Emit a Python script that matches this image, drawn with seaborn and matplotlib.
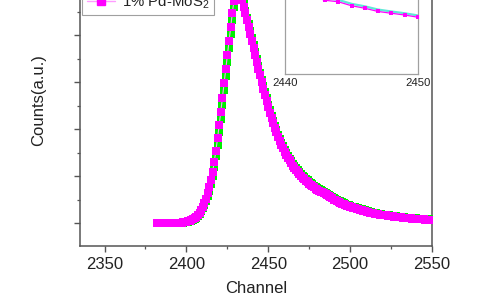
import matplotlib
matplotlib.use("Agg")
import matplotlib.pyplot as plt
import pandas as pd
import seaborn as sns
from matplotlib.lines import Line2D
from matplotlib.ticker import MultipleLocator, FixedLocator

# ---------------- data ----------------
channels = list(range(2382, 2551))

pure_counts = [
    0.00, 0.00, 0.00, 0.00, 0.00, 0.00, 0.00, 0.00, 0.00, 0.00,
    0.00, 0.00, 0.00, 0.00, 0.01, 0.01, 0.01, 0.02, 0.02, 0.03,
    0.04, 0.05, 0.07, 0.09, 0.11, 0.15, 0.19, 0.25, 0.31, 0.39,
    0.47, 0.57, 0.69, 0.83, 1.00, 1.19, 1.42, 1.67, 1.94, 2.22,
    2.52, 2.82, 3.12, 3.42, 3.72, 4.02, 4.31, 4.60, 4.86, 5.04,
    5.08, 4.96, 4.80, 4.65, 4.51, 4.37, 4.23, 4.08, 3.93, 3.78,
    3.63, 3.48, 3.33, 3.19, 3.05, 2.91, 2.78, 2.65, 2.52, 2.40,
    2.28, 2.17, 2.07, 1.97, 1.88, 1.79, 1.71, 1.63, 1.56, 1.49,
    1.43, 1.37, 1.31, 1.26, 1.21, 1.16, 1.12, 1.08, 1.04, 1.00,
    0.97, 0.94, 0.91, 0.88, 0.85, 0.82, 0.79, 0.77, 0.75, 0.72,
    0.70, 0.68, 0.66, 0.64, 0.62, 0.60, 0.58, 0.56, 0.53, 0.51,
    0.49, 0.47, 0.46, 0.44, 0.42, 0.41, 0.39, 0.38, 0.37, 0.35,
    0.34, 0.33, 0.32, 0.31, 0.30, 0.29, 0.28, 0.27, 0.26, 0.25,
    0.24, 0.23, 0.22, 0.22, 0.21, 0.20, 0.19, 0.19, 0.18, 0.18,
    0.17, 0.17, 0.16, 0.15, 0.15, 0.14, 0.14, 0.13, 0.13, 0.13,
    0.12, 0.12, 0.11, 0.11, 0.11, 0.10, 0.10, 0.10, 0.10, 0.09,
    0.09, 0.09, 0.09, 0.08, 0.08, 0.08, 0.08, 0.08, 0.07,
]

pd_counts = [
    0.00, 0.00, 0.00, 0.00, 0.00, 0.00, 0.00, 0.00, 0.00, 0.00,
    0.00, 0.00, 0.00, 0.01, 0.01, 0.01, 0.02, 0.02, 0.03, 0.04,
    0.05, 0.06, 0.08, 0.10, 0.13, 0.17, 0.22, 0.28, 0.35, 0.43,
    0.52, 0.63, 0.76, 0.91, 1.09, 1.30, 1.54, 1.80, 2.08, 2.37,
    2.67, 2.97, 3.27, 3.57, 3.87, 4.17, 4.46, 4.73, 4.95, 5.08,
    5.04, 4.90, 4.74, 4.60, 4.46, 4.32, 4.18, 4.03, 3.88, 3.73,
    3.58, 3.43, 3.28, 3.14, 3.00, 2.86, 2.73, 2.60, 2.47, 2.35,
    2.24, 2.13, 2.03, 1.93, 1.84, 1.75, 1.67, 1.59, 1.52, 1.45,
    1.39, 1.33, 1.27, 1.22, 1.17, 1.12, 1.08, 1.04, 1.00, 0.96,
    0.93, 0.90, 0.87, 0.84, 0.81, 0.78, 0.76, 0.73, 0.71, 0.69,
    0.67, 0.65, 0.63, 0.61, 0.59, 0.57, 0.55, 0.53, 0.50, 0.48,
    0.46, 0.44, 0.43, 0.41, 0.40, 0.38, 0.37, 0.36, 0.34, 0.33,
    0.32, 0.31, 0.30, 0.29, 0.28, 0.27, 0.26, 0.25, 0.24, 0.23,
    0.22, 0.22, 0.21, 0.20, 0.19, 0.19, 0.18, 0.17, 0.17, 0.16,
    0.16, 0.15, 0.15, 0.14, 0.14, 0.13, 0.13, 0.12, 0.12, 0.12,
    0.11, 0.11, 0.11, 0.10, 0.10, 0.10, 0.09, 0.09, 0.09, 0.09,
    0.08, 0.08, 0.08, 0.08, 0.07, 0.07, 0.07, 0.07, 0.07,
]

inset_channels = [2440, 2441, 2442, 2443, 2444, 2445, 2446, 2447, 2448, 2449, 2450]
inset_pure = [5.75, 5.35, 4.78, 4.46, 4.35, 4.08, 3.91, 3.69, 3.56, 3.44, 3.29]
inset_pd = [5.60, 5.20, 4.62, 4.32, 4.22, 3.95, 3.78, 3.56, 3.44, 3.32, 3.17]

main_xticks = [2350, 2400, 2450, 2500, 2550]
inset_xticks = [2440, 2450]
x_label = "Channel"
y_label = "Counts(a.u.)"
legend_label = "1% Pd-MoS$_2$"

# ---------------- style ----------------
sns.set_theme(style="white")
plt.rcParams['font.family'] = ['Liberation Sans', 'DejaVu Sans']
plt.rcParams['mathtext.fontset'] = 'custom'
plt.rcParams['mathtext.rm'] = 'Liberation Sans'
plt.rcParams['mathtext.it'] = 'Liberation Sans:italic'

GREEN = "#00ee00"
GREEN_LINE = "#9ff59f"
MAG = "#ff00ff"
MAG_LINE = "#ff9cff"
SPINE = "#555555"
TXT = "#222222"

W, H = 480, 300
fig = plt.figure(figsize=(W / 100, H / 100), dpi=100)

# main axes: left 80px, right 432px, bottom 246px (from top), top beyond the figure
ax_top_px = -35.5
ax = fig.add_axes([80 / W, (H - 246) / H, 352 / W, (246 - ax_top_px) / H])

df = pd.DataFrame({
    "Channel": channels + channels,
    "Counts": pure_counts + pd_counts,
    "Sample": ["pure"] * len(channels) + ["pd"] * len(channels),
})
dg = df[df.Sample == "pure"]
dm = df[df.Sample == "pd"]

sns.lineplot(data=dg, x="Channel", y="Counts", color=GREEN_LINE, lw=0.8, ax=ax, zorder=2)
sns.scatterplot(data=dg, x="Channel", y="Counts", color=GREEN, marker="s", s=28,
                linewidth=0, ax=ax, zorder=3)
sns.lineplot(data=dm, x="Channel", y="Counts", color=MAG_LINE, lw=0.8, ax=ax, zorder=4)
sns.scatterplot(data=dm, x="Channel", y="Counts", color=MAG, marker="s", s=28,
                linewidth=0, ax=ax, zorder=5)

ax.set_xlim(2335, 2550)
ax.set_ylim(-23 / 47, (223 - ax_top_px) / 47)
ax.xaxis.set_major_locator(FixedLocator(main_xticks))
ax.xaxis.set_minor_locator(MultipleLocator(25))
ax.yaxis.set_major_locator(MultipleLocator(1))
ax.yaxis.set_minor_locator(MultipleLocator(0.5))
ax.tick_params(axis="both", which="both", direction="out", colors=SPINE,
               labelcolor=TXT, labelsize=12)
ax.tick_params(axis="both", which="major", length=4.5, width=1.0, pad=3.5)
ax.tick_params(axis="both", which="minor", length=2.5, width=0.9)
ax.tick_params(axis="x", which="both", bottom=True, top=False)
ax.tick_params(axis="y", which="both", left=True, right=False, labelleft=False)
for s in ax.spines.values():
    s.set_color(SPINE)
    s.set_linewidth(1.1)

ax.set_xlabel(x_label, fontsize=12, color=TXT)
ax.set_ylabel(y_label, fontsize=12, color=TXT)
ax_h = 246 - ax_top_px
ax.xaxis.set_label_coords(0.5, (246 - 281) / ax_h)
ax.yaxis.set_label_coords((46 - 80) / 352, (246 - 100) / ax_h)

handle = Line2D([], [], color=MAG_LINE, lw=1.0, marker="s", markersize=5.5,
                markerfacecolor=MAG, markeredgecolor=MAG)
leg = ax.legend([handle], [legend_label], loc="lower left",
                bbox_to_anchor=(2 / 352, (246 - 15) / ax_h), frameon=True,
                fancybox=False, edgecolor="#888888", fontsize=10.8,
                handlelength=1.9, borderpad=0.3, borderaxespad=0,
                handletextpad=0.45, numpoints=1)
leg.get_frame().set_linewidth(0.8)
for t in leg.get_texts():
    t.set_color(TXT)

# ---------------- inset ----------------
in_top_px = -40
axin = fig.add_axes([285 / W, (H - 74) / H, 133 / W, (74 - in_top_px) / H])
di = pd.DataFrame({"Channel": inset_channels, "pure": inset_pure, "pd": inset_pd})
sns.lineplot(data=di, x="Channel", y="pure", color="#5fe8d6", lw=1.6, ax=axin, zorder=2)
sns.lineplot(data=di, x="Channel", y="pd", color=MAG, lw=0.9, marker="s",
             markersize=2.6, markeredgewidth=0, ax=axin, zorder=3)
axin.set_xlim(2440, 2450)
axin.set_ylim(-10 / 14.75, (64 - in_top_px) / 14.75)
axin.xaxis.set_major_locator(FixedLocator(inset_xticks))
axin.xaxis.set_minor_locator(FixedLocator([2445]))
axin.yaxis.set_major_locator(MultipleLocator(1))
axin.tick_params(axis="both", which="both", direction="in", colors="#999999",
                 labelcolor=TXT, labelsize=8.2)
axin.tick_params(axis="both", which="major", length=3, width=0.8, pad=3)
axin.tick_params(axis="both", which="minor", length=2.5, width=0.8)
axin.tick_params(axis="y", labelleft=False)
axin.set_xlabel("")
axin.set_ylabel("")
for s in axin.spines.values():
    s.set_color("#a0a0a0")
    s.set_linewidth(0.9)

fig.savefig("out.png", dpi=100)
